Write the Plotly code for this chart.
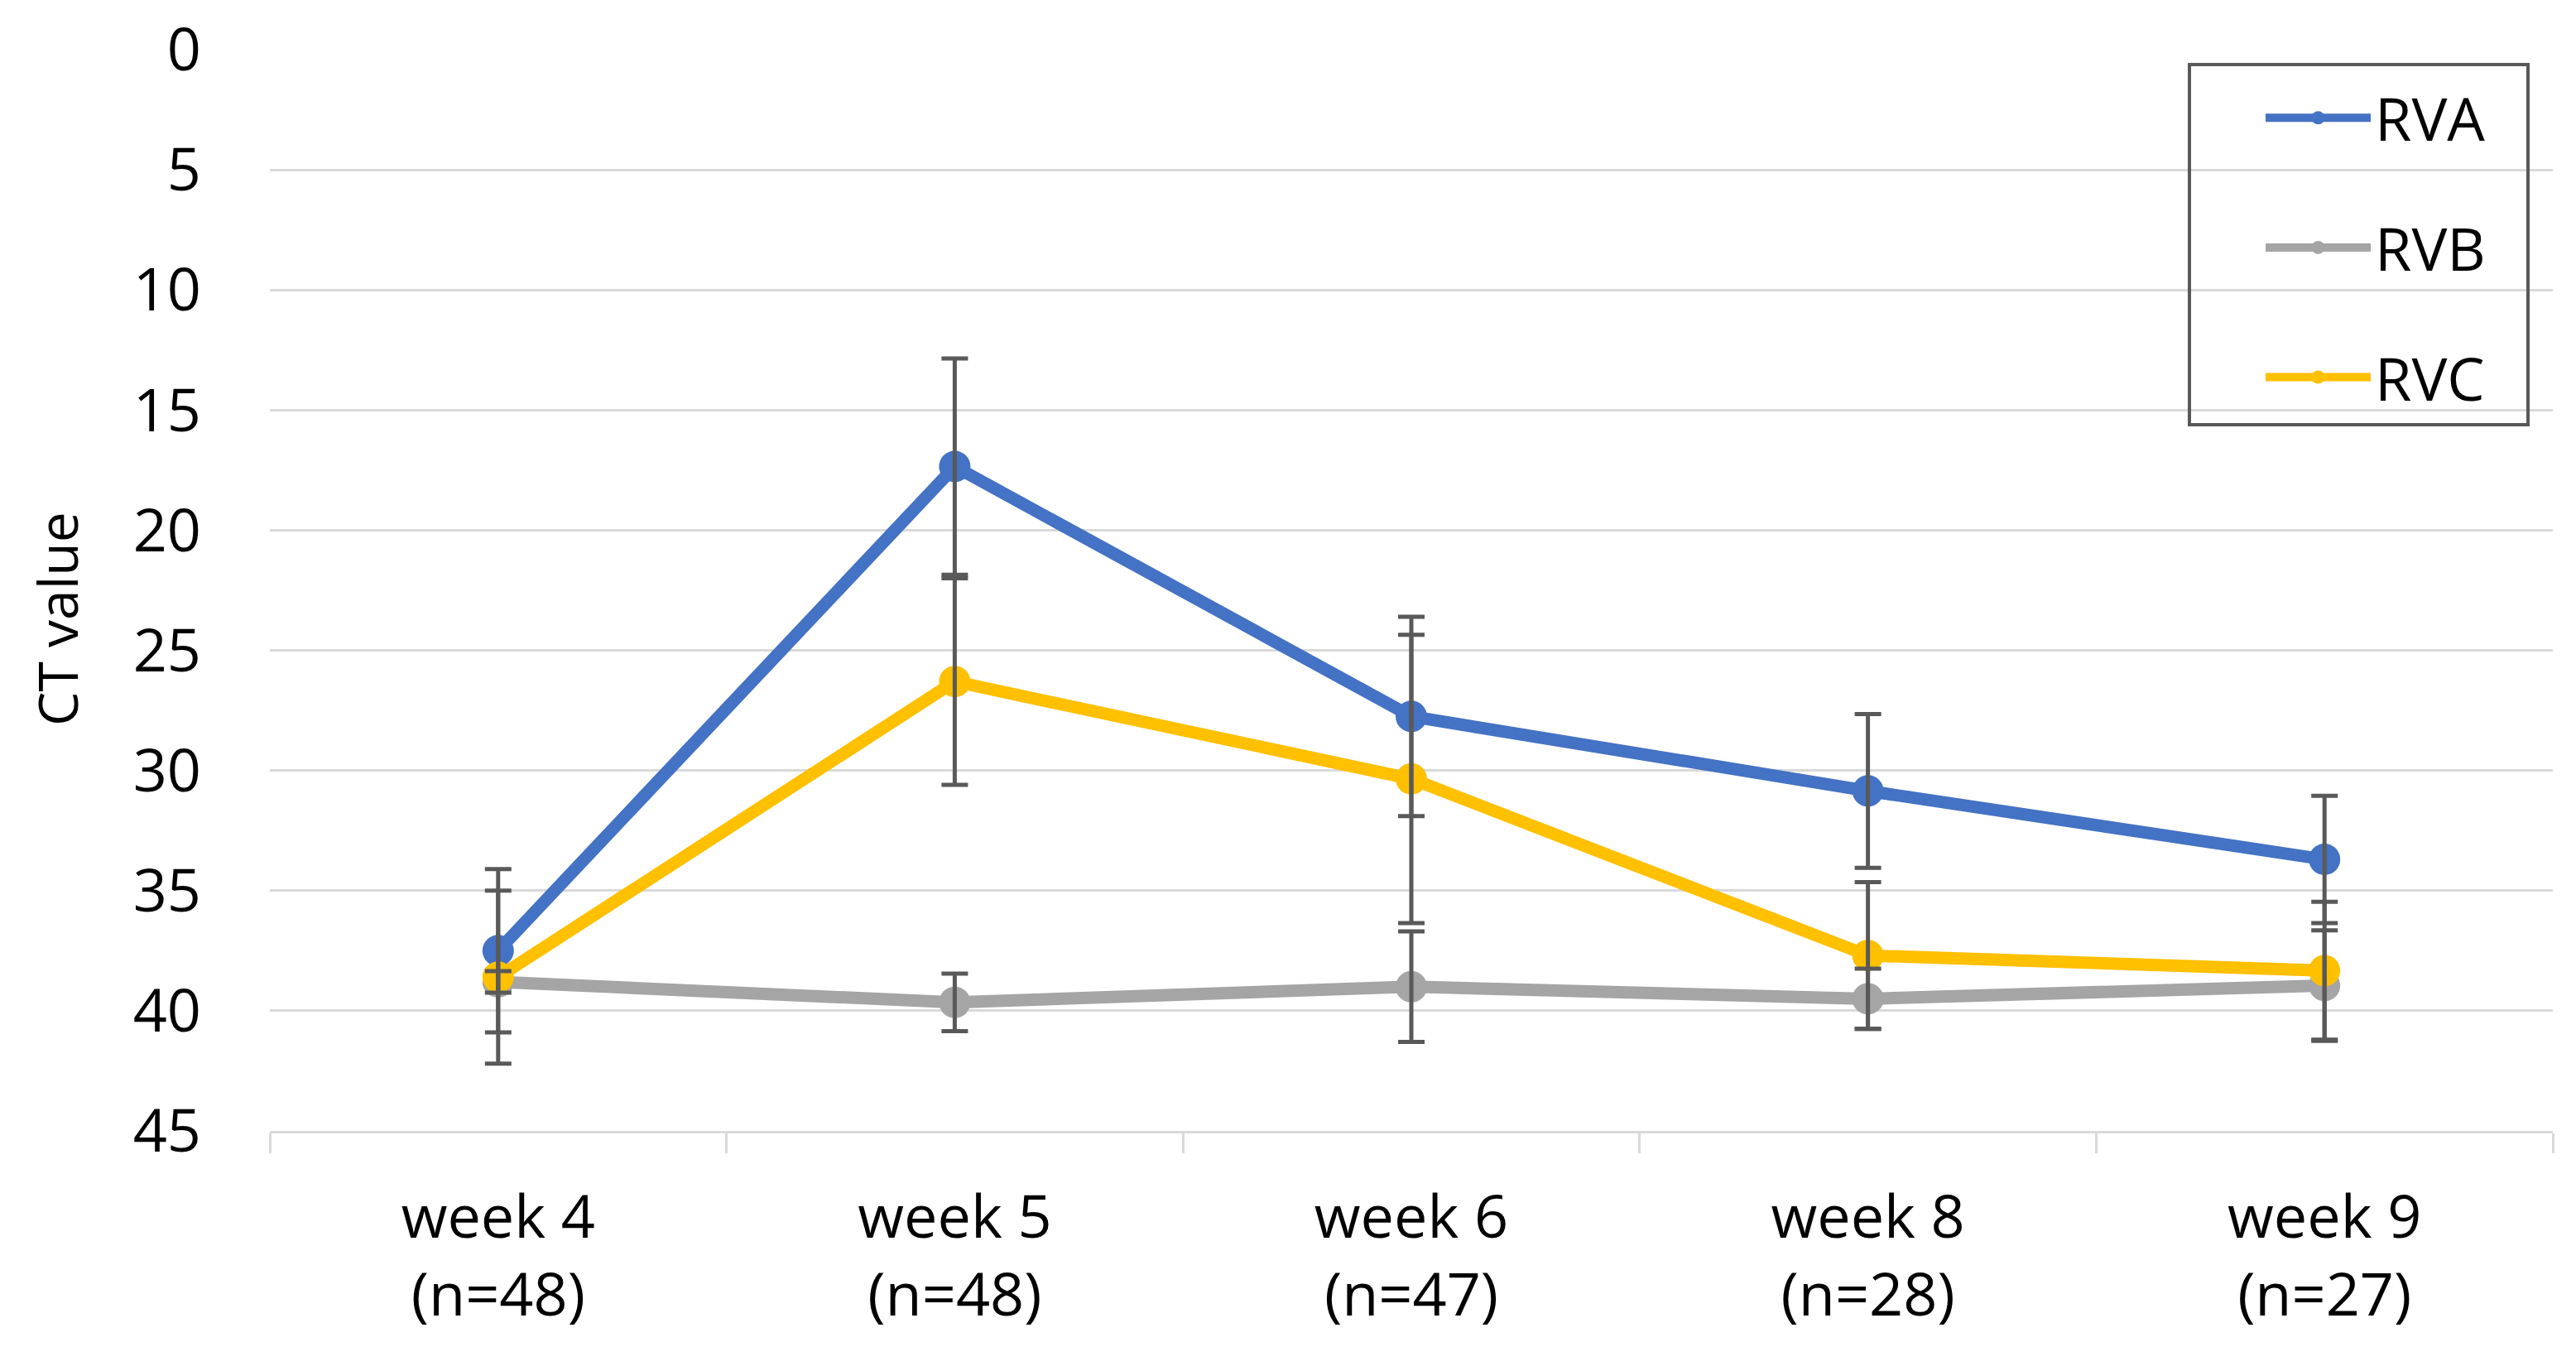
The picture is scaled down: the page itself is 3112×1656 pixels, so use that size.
import plotly.graph_objects as go

weeks = ["week 4<br>(n=48)", "week 5<br>(n=48)", "week 6<br>(n=47)", "week 8<br>(n=28)", "week 9<br>(n=27)"]
rva = [37.5, 17.35, 27.75, 30.85, 33.7]
rva_err = [3.4, 4.5, 4.15, 3.2, 2.65]
rvb = [38.8, 39.65, 39.0, 39.5, 38.95]
rvb_err = [0.45, 1.2, 2.3, 1.25, 2.3]
rvc = [38.6, 26.3, 30.35, 37.7, 38.33]
rvc_err = [3.6, 4.3, 6.0, 3.05, 2.87]
y_ticks = [0, 5, 10, 15, 20, 25, 30, 35, 40, 45]

series = [
    ("RVA", rva, rva_err, "#4472C4"),
    ("RVB", rvb, rvb_err, "#A5A5A5"),
    ("RVC", rvc, rvc_err, "#FFC000"),
]

FONT = "Open Sans"
fig = go.Figure()
for name, vals, errs, col in series:
    fig.add_trace(go.Scatter(
        x=weeks, y=vals, name=name, mode="lines+markers",
        line=dict(color=col, width=15),
        marker=dict(color=col, size=38),
        legendgroup=name,
    ))
for name, vals, errs, col in series:
    fig.add_trace(go.Scatter(
        x=weeks, y=vals, mode="markers", showlegend=False,
        marker=dict(color=col, size=1, opacity=0),
        error_y=dict(type="data", array=errs, visible=True,
                     color="#595959", thickness=5, width=16),
        hoverinfo="skip",
    ))

W, H = 3112, 1656
L, R, T, B = 326, 28, 60, 290
pw, ph = W - L - R, H - T - B

def px(xp):
    return (xp - L) / pw

def py(yp):
    return 1 - (yp - T) / ph

fig.update_layout(
    width=W, height=H,
    margin=dict(l=L, r=R, t=T, b=B, autoexpand=False),
    paper_bgcolor="white", plot_bgcolor="white",
    font=dict(family=FONT, size=72, color="#000000"),
    showlegend=True,
    legend=dict(
        x=px(2732), y=py(89), xanchor="left", yanchor="top",
        bgcolor="rgba(0,0,0,0)", borderwidth=0,
        font=dict(family=FONT, size=72, color="#000000"),
        tracegroupgap=60, itemwidth=127,
    ),
    xaxis=dict(
        type="category", range=[-0.5, 4.5],
        showgrid=False, zeroline=False,
        showline=True, linecolor="#D9D9D9", linewidth=3,
        ticks="outside", tickson="boundaries", ticklen=24, tickwidth=3, tickcolor="#D9D9D9",
        tickfont=dict(family=FONT, size=72, color="#000000"),
        ticklabelstandoff=40,
        fixedrange=True,
    ),
    yaxis=dict(
        range=[45, 0], tickvals=y_ticks,
        showgrid=True, gridcolor="#D9D9D9", gridwidth=3,
        zeroline=False, showline=False, ticks="",
        tickfont=dict(family=FONT, size=72, color="#000000"),
        ticklabelstandoff=82,
        fixedrange=True,
    ),
    annotations=[dict(
        text="CT value", xref="paper", yref="paper",
        x=px(68), y=py(748), xanchor="center", yanchor="middle",
        textangle=-90, showarrow=False,
        font=dict(family=FONT, size=66, color="#000000"),
    )],
    shapes=[dict(
        type="rect", xref="paper", yref="paper",
        x0=px(2645), x1=px(3054), y0=py(513), y1=py(78),
        line=dict(color="#595959", width=4), fillcolor="rgba(0,0,0,0)",
    )],
)

fig.write_html("out.html", config={"displayModeBar": False},
               post_script="document.body.style.margin='0';document.body.style.overflow='hidden';")
